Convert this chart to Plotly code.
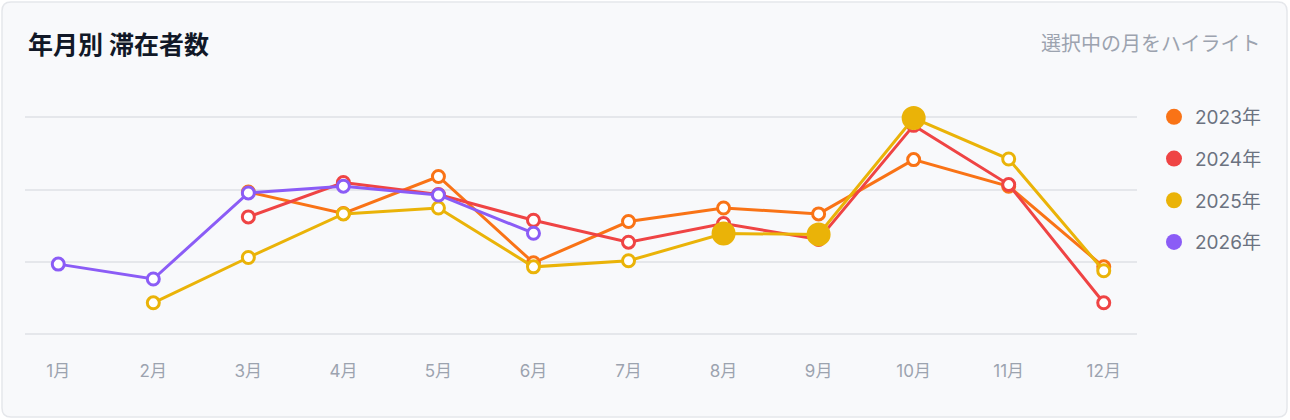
import plotly.graph_objects as go

MONTHS = ["1月", "2月", "3月", "4月", "5月", "6月", "7月", "8月", "9月", "10月", "11月", "12月"]

VISITS_2023 = [None, None, 984, 835, 1091, 493, 779, 873, 832, 1208, 1023, 465]
VISITS_2024 = [None, None, 811, 1049, 966, 788, 636, 765, 655, 1445, 1035, 216]
VISITS_2025 = [None, 216, 530, 832, 873, 465, 507, 696, 690, 1496, 1212, 438]
VISITS_2026 = [484, 381, 977, 1024, 963, 698, None, None, None, None, None, None]

SERIES = [
    ("2023年", VISITS_2023, "#f97316"),
    ("2024年", VISITS_2024, "#ef4444"),
    ("2025年", VISITS_2025, "#eab308"),
    ("2026年", VISITS_2026, "#8b5cf6"),
]

SELECTED_YEAR = "2025年"
SELECTED_MONTHS = ["8月", "9月", "10月"]

FONT = "Inter, Noto Sans CJK JP, sans-serif"
W, H = 1290, 420
L, R, T, B = 25, 153, 90, 86


def to_paper(px, py):
    return (px - L) / (W - L - R), (H - B - py) / (H - T - B)


def rounded_rect(x0, y0, x1, y1, r):
    pts = [
        ("M", [(x0 + r, y0)]), ("L", [(x1 - r, y0)]), ("Q", [(x1, y0), (x1, y0 + r)]),
        ("L", [(x1, y1 - r)]), ("Q", [(x1, y1), (x1 - r, y1)]),
        ("L", [(x0 + r, y1)]), ("Q", [(x0, y1), (x0, y1 - r)]),
        ("L", [(x0, y0 + r)]), ("Q", [(x0, y0), (x0 + r, y0)]),
    ]
    out = []
    for cmd, ps in pts:
        coords = " ".join("%.5f,%.5f" % to_paper(px, py) for px, py in ps)
        out.append(f"{cmd} {coords}")
    return " ".join(out) + " Z"


fig = go.Figure()

for name, vals, color in SERIES:
    hl = [name == SELECTED_YEAR and m in SELECTED_MONTHS for m in MONTHS]
    fig.add_trace(go.Scatter(
        x=MONTHS, y=vals, mode="lines+markers", name=name,
        line=dict(color=color, width=3),
        marker=dict(
            size=[21 if h else 12 for h in hl],
            color=[color if h else "#ffffff" for h in hl],
            line=dict(color=color, width=3),
            opacity=1,
        ),
        showlegend=False,
        connectgaps=False,
    ))

# legend entries: plain filled dots
for name, vals, color in SERIES:
    fig.add_trace(go.Scatter(
        x=[None], y=[None], mode="markers", name=name,
        marker=dict(size=16, color=color), legendgroup=name,
    ))

fig.add_shape(
    type="path", xref="paper", yref="paper", layer="below",
    path=rounded_rect(2, 2, 1287, 417, 9),
    fillcolor="#f8f9fb", line=dict(color="#e5e7eb", width=1.5),
)

tx, ty = to_paper(26, 45)
sx, sy = to_paper(1263, 44)
fig.add_annotation(text="<b>年月別 滞在者数</b>", x=tx, y=ty, xref="paper", yref="paper",
                   xanchor="left", yanchor="middle", showarrow=False,
                   font=dict(family=FONT, size=25, color="#111827"))
fig.add_annotation(text="選択中の月をハイライト", x=sx, y=sy, xref="paper", yref="paper",
                   xanchor="right", yanchor="middle", showarrow=False,
                   font=dict(family=FONT, size=20, color="#9ca3af"))

lx, ly = to_paper(1153, 98)
fig.update_layout(
    width=W, height=H,
    margin=dict(l=L, r=R, t=T, b=B),
    paper_bgcolor="#ffffff",
    plot_bgcolor="rgba(0,0,0,0)",
    font=dict(family=FONT),
    legend=dict(x=lx, y=ly, xanchor="left", yanchor="top",
                font=dict(size=19, color="#6b7280"), tracegroupgap=14,
                itemwidth=32, bgcolor="rgba(0,0,0,0)"),
    xaxis=dict(range=[-0.35, 11.35], showgrid=False, zeroline=False, showline=False,
               ticks="", ticklabelstandoff=25,
               tickfont=dict(size=17, color="#9ca3af")),
    yaxis=dict(range=[0, 1690], tickvals=[0, 500, 1000, 1500], showticklabels=False,
               gridcolor="#e5e7eb", gridwidth=1.5,
               zeroline=True, zerolinecolor="#e5e7eb", zerolinewidth=1.5, showline=False),
)

fig.write_html("out.html", config={"displayModeBar": False},
               post_script="document.body.style.margin='0';")
